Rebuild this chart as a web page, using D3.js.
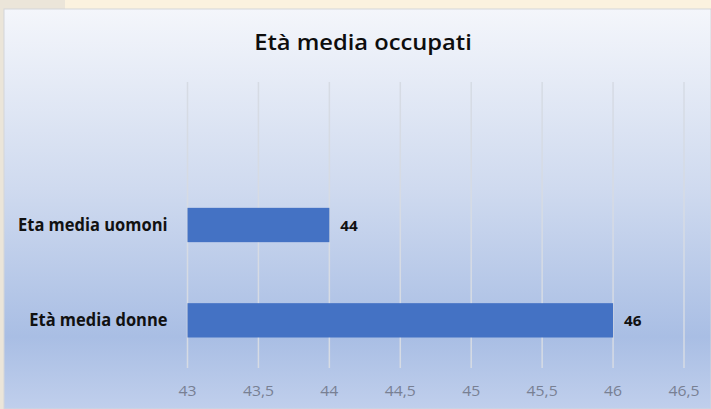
<!DOCTYPE html>
<html>
<head>
<meta charset="utf-8">
<script src="https://cdn.jsdelivr.net/npm/d3@7"></script>
<style>
  body { margin: 0; background: #ebe5d9; }
  svg { display: block; }
</style>
</head>
<body>
<div class="canvas"></div>
<script>
// chart data
const categories = ['Eta media uomoni', 'Età media donne'];
const values = [44, 46];
const ticks = [43, 43.5, 44, 44.5, 45, 45.5, 46, 46.5];
const title = 'Età media occupati';

const dim = { width: 711, height: 409 };
const panel = { x: 4, y: 9 };
const plot = { left: 187.5, right: 684, top: 82, bottom: 368 };
const font = 'Open Sans, sans-serif';

const svg = d3.select('.canvas').append('svg')
    .attr('width', dim.width)
    .attr('height', dim.height);

// background gradient
const defs = svg.append('defs');
const grad = defs.append('linearGradient')
    .attr('id', 'bg').attr('x1', 0).attr('y1', 0).attr('x2', 0).attr('y2', 1);
grad.append('stop').attr('offset', '0%').attr('stop-color', '#f4f6fb');
grad.append('stop').attr('offset', '45%').attr('stop-color', '#cfdaef');
grad.append('stop').attr('offset', '82%').attr('stop-color', '#a9bee4');
grad.append('stop').attr('offset', '100%').attr('stop-color', '#c0cfec');

// some scraps of the window behind the chart
svg.append('rect').attr('x', 65).attr('y', 0).attr('width', 646).attr('height', 10)
    .attr('fill', '#fbf2df');

svg.append('rect')
    .attr('x', panel.x).attr('y', panel.y)
    .attr('width', dim.width - panel.x).attr('height', dim.height - panel.y)
    .attr('fill', 'url(#bg)')
    .attr('stroke', '#d4d6da');

// text helper, with a horizontal scale to get closer to the original font widths
const label = (g, tx, ty, sx) => g.append('text')
    .attr('transform', `translate(${tx}, ${ty}) scale(${sx}, 1)`)
    .attr('font-family', font);

label(svg, 363, 50, 1.13)
    .attr('text-anchor', 'middle')
    .attr('font-size', 21)
    .attr('font-weight', 600)
    .attr('fill', '#0d0d0d')
    .text(title);

const x = d3.scaleLinear()
    .domain([d3.min(ticks), d3.max(ticks)])
    .range([plot.left, plot.right]);

const y = d3.scaleBand()
    .domain(categories)
    .range([plot.top + (plot.bottom - plot.top) / 3, plot.bottom])
    .paddingInner(0.64)
    .paddingOuter(0.32);

const graph = svg.append('g');

// gridlines
graph.selectAll('line.grid')
    .data(ticks)
    .enter().append('line')
    .attr('class', 'grid')
    .attr('x1', d => x(d)).attr('x2', d => x(d))
    .attr('y1', plot.top).attr('y2', plot.bottom)
    .attr('stroke', '#d6dbe4')
    .attr('stroke-width', 1.5);

// x tick labels
const fmt = d => String(d).replace('.', ',');
ticks.forEach(t => {
    label(svg, x(t), plot.bottom + 28, 1.05)
        .attr('text-anchor', 'middle')
        .attr('font-size', 15)
        .attr('fill', '#788093')
        .text(fmt(t));
});

// bars
graph.selectAll('rect.bar')
    .data(values)
    .enter().append('rect')
    .attr('class', 'bar')
    .attr('x', x(d3.min(ticks)))
    .attr('y', (d, i) => y(categories[i]))
    .attr('width', d => x(d) - x(d3.min(ticks)))
    .attr('height', y.bandwidth())
    .attr('fill', '#4472c4');

// value labels and category labels
values.forEach((v, i) => {
    const cy = y(categories[i]) + y.bandwidth() / 2;
    label(graph, x(v) + 11, cy + 5.5, 1.02)
        .attr('font-size', 15)
        .attr('font-weight', 700)
        .attr('fill', '#111')
        .text(v);
    label(graph, plot.left - 20, cy + 6, 0.97)
        .attr('text-anchor', 'end')
        .attr('font-size', 17)
        .attr('font-weight', 700)
        .attr('fill', '#111')
        .text(categories[i]);
});
</script>
</body>
</html>
